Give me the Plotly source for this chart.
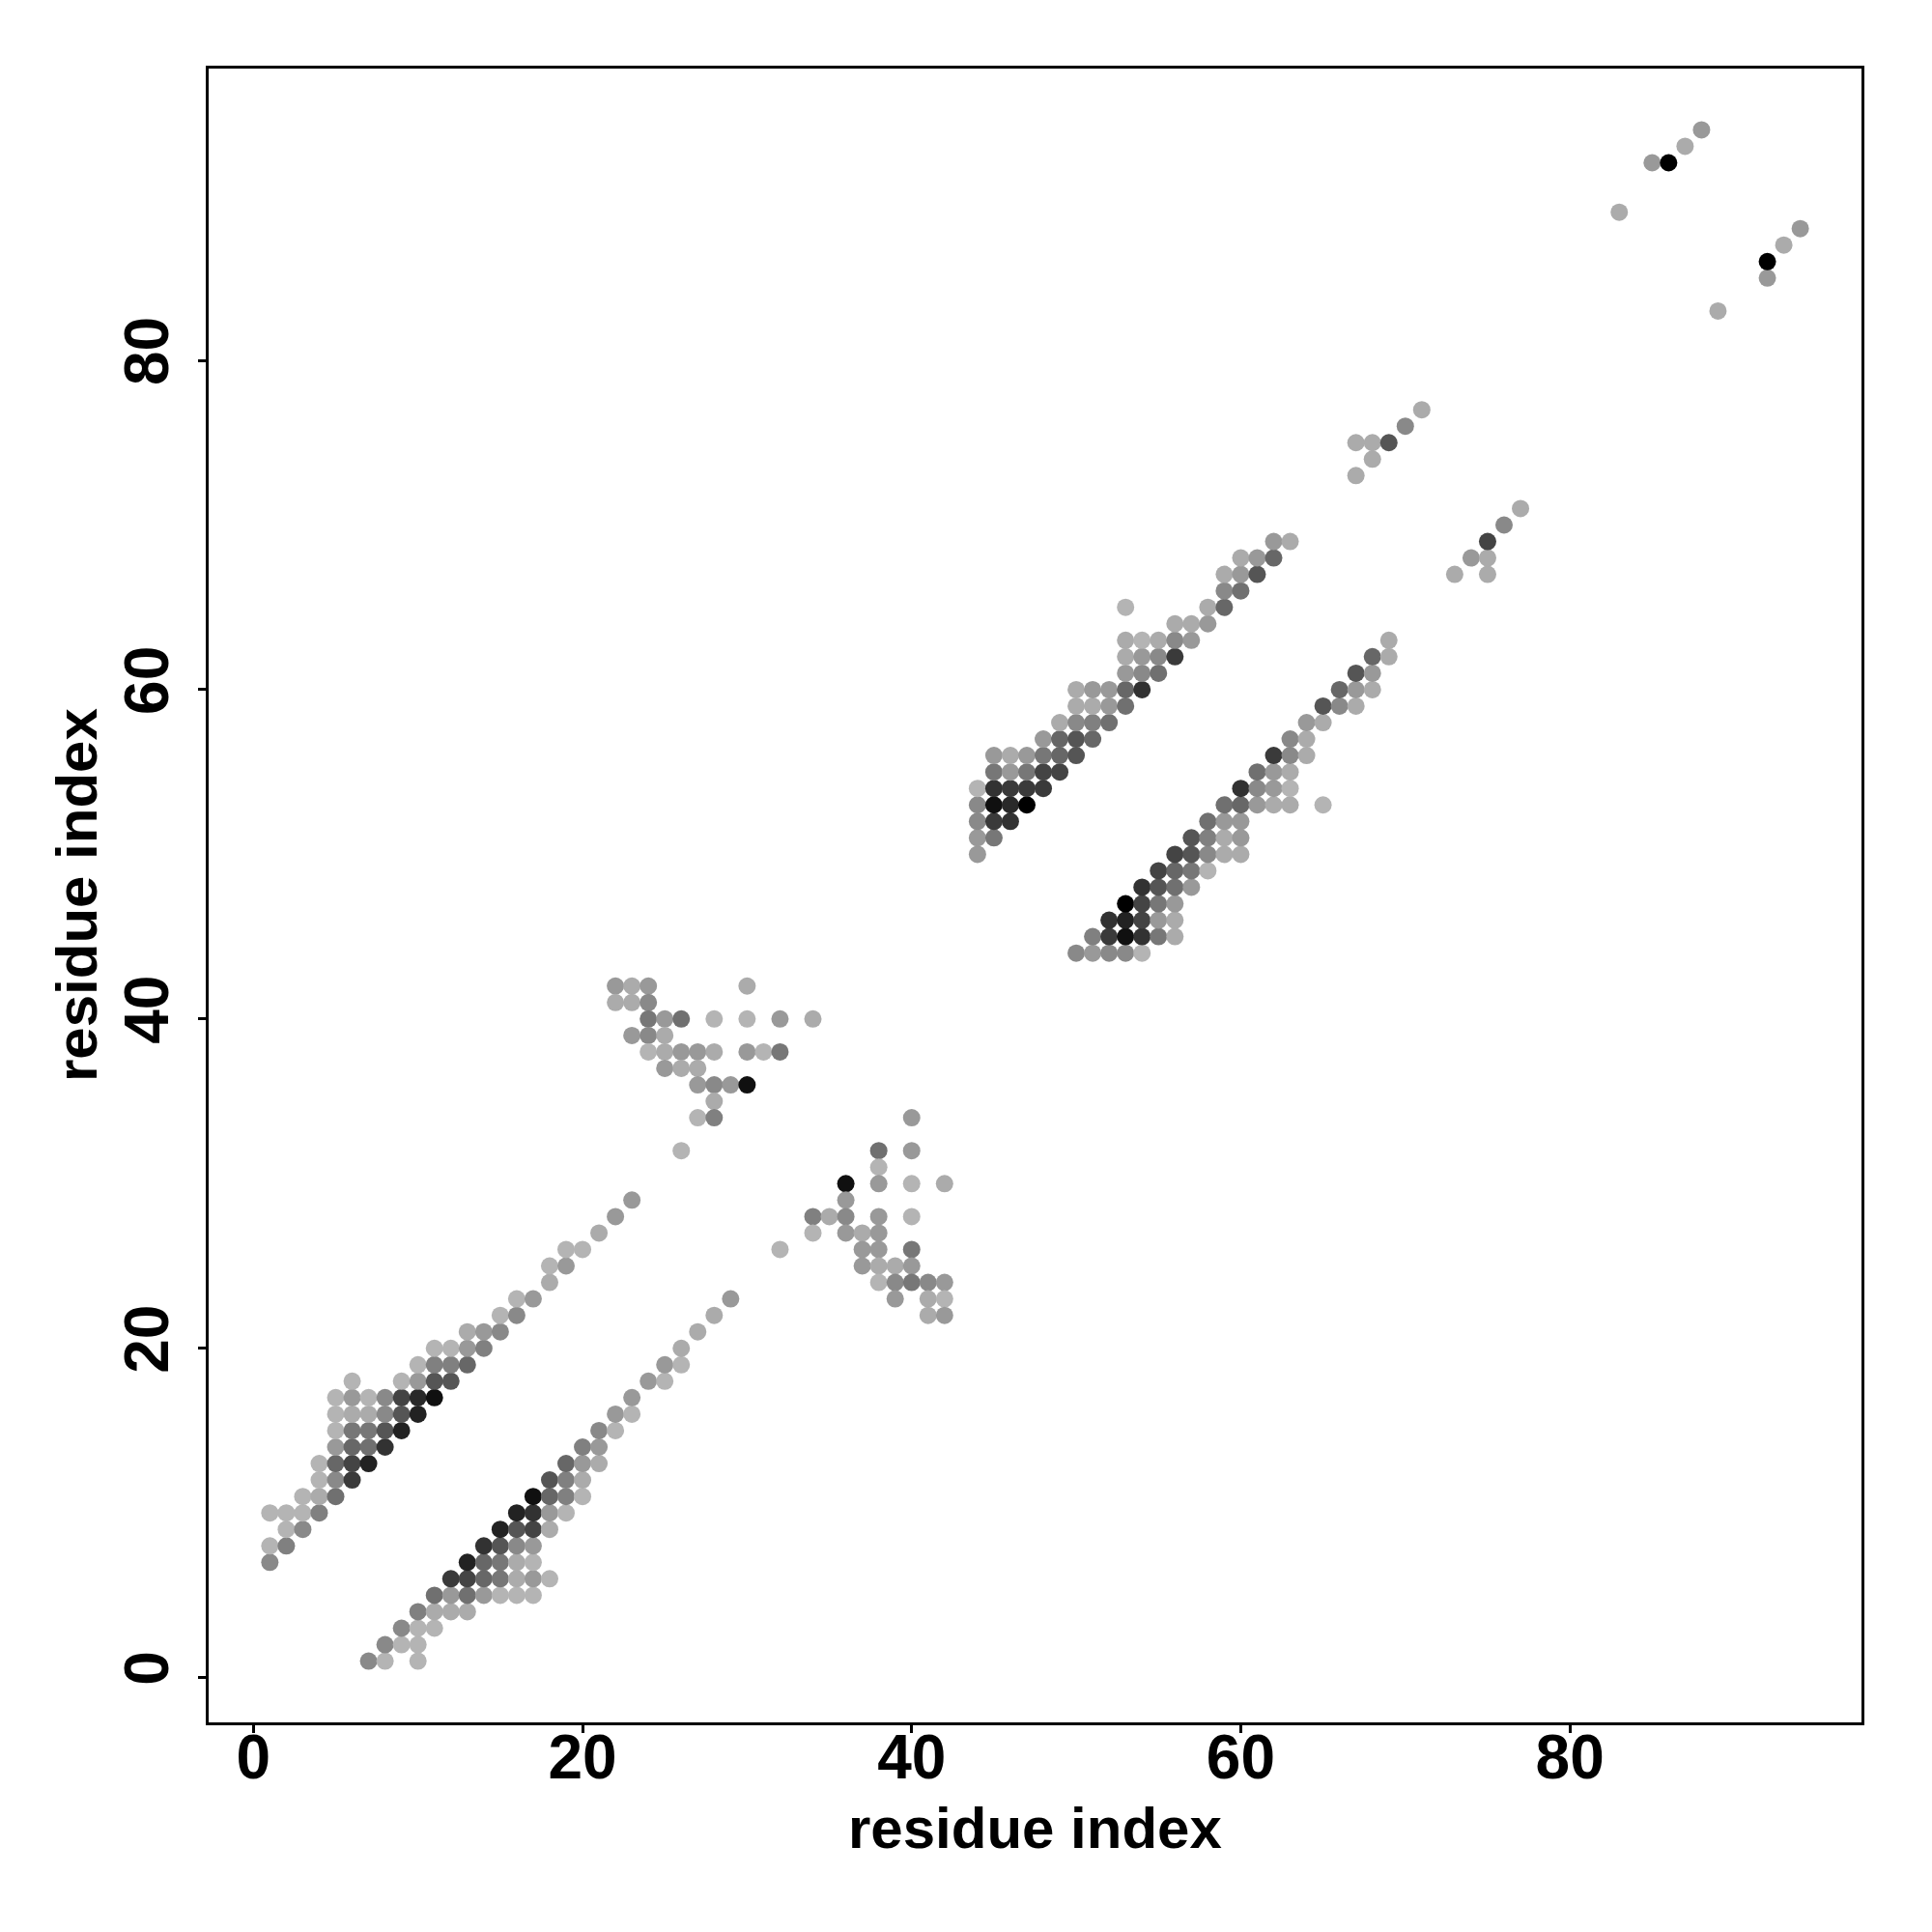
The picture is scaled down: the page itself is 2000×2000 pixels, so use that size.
import plotly.graph_objects as go

# ---- contact map data: residue i (x), residue j (y), contact probability ----
# lower band near the N-terminus (i > j)
band1_lo_i = [7, 8, 10,
              8, 9, 10,
              9, 10, 11,
              10, 11, 12, 13,
              11, 12, 13, 14, 15, 16, 17,
              12, 13, 14, 15, 16, 17, 18,
              13, 14, 15, 16, 17,
              14, 15, 16, 17,
              15, 16, 17, 18,
              16, 17, 18, 19,
              17, 18, 19, 20,
              18, 19, 20,
              19, 20, 21,
              20, 21,
              21, 22,
              22, 23,
              23,
              24, 25,
              25, 26,
              26, 27, 28, 29]
band1_lo_j = [1, 1, 1,
              2, 2, 2,
              3, 3, 3,
              4, 4, 4, 4,
              5, 5, 5, 5, 5, 5, 5,
              6, 6, 6, 6, 6, 6, 6,
              7, 7, 7, 7, 7,
              8, 8, 8, 8,
              9, 9, 9, 9,
              10, 10, 10, 10,
              11, 11, 11, 11,
              12, 12, 12,
              13, 13, 13,
              14, 14,
              15, 15,
              16, 16,
              17,
              18, 18,
              19, 19,
              20, 21, 22, 23]
band1_lo_p = [.24, 0, 0,
              .24, 0, 0,
              .24, 0, 0,
              .29, .05, .05, .05,
              .38, .15, .38, .15, 0, 0, 0,
              .68, .62, .43, .34, .05, .15, 0,
              .81, .43, .34, .05, 0,
              .72, .53, .24, .15,
              .81, .53, .62, .05,
              .81, .72, .15, 0,
              .91, .43, .29, 0,
              .53, .29, .05,
              .43, .15, .05,
              .29, .15,
              .24, 0,
              .15, 0,
              .15,
              .15, 0,
              .15, 0,
              .05, .05, .05, .15]

# upper band near the N-terminus (j > i)
band1_up_i = [1,
              1, 2,
              2, 3,
              1, 2, 3, 4,
              3, 4, 5,
              4, 5, 6,
              4, 5, 6, 7,
              5, 6, 7, 8,
              5, 6, 7, 8, 9,
              5, 6, 7, 8, 9, 10,
              5, 6, 7, 8, 9, 10, 11,
              6, 9, 10, 11, 12,
              10, 11, 12, 13,
              11, 12, 13, 14,
              13, 14, 15,
              15, 16,
              16, 17,
              18,
              18, 19,
              19, 20,
              21, 22, 23]
band1_up_j = [7,
              8, 8,
              9, 9,
              10, 10, 10, 10,
              11, 11, 11,
              12, 12, 12,
              13, 13, 13, 13,
              14, 14, 14, 14,
              15, 15, 15, 15, 15,
              16, 16, 16, 16, 16, 16,
              17, 17, 17, 17, 17, 17, 17,
              18, 18, 18, 18, 18,
              19, 19, 19, 19,
              20, 20, 20, 20,
              21, 21, 21,
              22, 22,
              23, 23,
              24,
              25, 25,
              26, 26,
              27, 28, 29]
band1_up_p = [.24,
              0, .29,
              0, .24,
              0, 0, 0, .29,
              0, .05, .38,
              0, .24, .68,
              0, .43, .62, .81,
              .15, .43, .38, .72,
              0, .34, .34, .53, .81,
              0, .05, .05, .24, .53, .81,
              0, .15, 0, .24, .62, .77, .91,
              0, 0, .15, .53, .53,
              0, .29, .29, .43,
              0, 0, .15, .29,
              .05, .15, .24,
              0, .24,
              0, .15,
              .05,
              0, .15,
              0, 0,
              .05, .15, .15]

# cluster around (22-34, 32-42)
clusterA_i = [22, 23, 24, 30,
              22, 23, 24,
              24, 25, 26, 28, 30, 32, 34,
              23, 24, 25,
              24, 25, 26, 27, 28, 30, 31, 32,
              25, 26, 27,
              27, 28, 29, 30,
              28,
              27, 28,
              26]
clusterA_j = [42, 42, 42, 42,
              41, 41, 41,
              40, 40, 40, 40, 40, 40, 40,
              39, 39, 39,
              38, 38, 38, 38, 38, 38, 38, 38,
              37, 37, 37,
              36, 36, 36, 36,
              35,
              34, 34,
              32]
clusterA_p = [.15, .05, .15, .05,
              .05, .05, .24,
              .34, .15, .38, 0, 0, .15, .05,
              .15, .24, .05,
              0, .05, .15, .15, .05, .15, 0, .34,
              .15, .05, .05,
              .15, .24, .15, .91,
              .05,
              0, .29,
              0]

# cluster around (32-42, 22-34)
clusterB_i = [40,
              38, 40,
              38,
              36, 38, 40, 42,
              36,
              34, 35, 36, 38, 40,
              34, 36, 37, 38,
              32, 37, 38, 40,
              37, 38, 39, 40,
              38, 39, 40, 41, 42,
              39, 41, 42,
              41, 42]
clusterB_j = [34,
              32, 32,
              31,
              30, 30, 30, 30,
              29,
              28, 28, 28, 28, 28,
              27, 27, 27, 27,
              26, 26, 26, 26,
              25, 25, 25, 25,
              24, 24, 24, 24, 24,
              23, 23, 23,
              22, 22]
clusterB_p = [.15,
              .38, .15,
              0,
              .91, .15, 0, .05,
              .15,
              .29, .05, .24, .15, 0,
              0, .15, .05, .15,
              0, .15, .15, .34,
              .15, .05, .05, .15,
              0, .24, .34, .24, .15,
              .15, .05, 0,
              .05, .15]

# upper band of the middle sheet (j > i)
band2_up_i = [44,
              44, 45,
              44, 45, 46,
              44, 45, 46, 47,
              44, 45, 46, 47, 48,
              45, 46, 47, 48, 49,
              45, 46, 47, 48, 49, 50,
              48, 49, 50, 51,
              49, 50, 51, 52,
              50, 51, 52, 53,
              50, 51, 52, 53, 54,
              53, 54, 55,
              53, 54, 55, 56,
              53, 54, 55, 56, 57,
              56, 57, 58,
              53, 58, 59,
              59, 60,
              59, 60, 61,
              60, 61, 62,
              62, 63]
band2_up_j = [50,
              51, 51,
              52, 52, 52,
              53, 53, 53, 53,
              54, 54, 54, 54, 54,
              55, 55, 55, 55, 55,
              56, 56, 56, 56, 56, 56,
              57, 57, 57, 57,
              58, 58, 58, 58,
              59, 59, 59, 59,
              60, 60, 60, 60, 60,
              61, 61, 61,
              62, 62, 62, 62,
              63, 63, 63, 63, 63,
              64, 64, 64,
              65, 65, 65,
              66, 66,
              67, 67, 67,
              68, 68, 68,
              69, 69]
band2_up_p = [.15,
              .15, .34,
              .24, .68, .72,
              .24, .91, .77, 1.0,
              0, .72, .68, .68, .68,
              .34, .15, .34, .62, .62,
              .15, .05, .15, .34, .43, .53,
              .15, .43, .53, .43,
              .05, .24, .29, .38,
              .05, .05, .15, .38,
              .05, .15, .15, .43, .72,
              .15, .24, .38,
              .05, .15, .24, .68,
              .05, 0, .05, .24, .15,
              .05, .05, .15,
              0, .05, .43,
              .24, .38,
              .05, .15, .53,
              .05, .15, .43,
              .15, .05]

# lower band of the middle sheet (i > j)
band2_lo_i = [50, 51, 52, 53, 54,
              51, 52, 53, 54, 55, 56,
              52, 53, 54, 55, 56,
              53, 54, 55, 56,
              54, 55, 56, 57,
              55, 56, 57, 58,
              56, 57, 58, 59, 60,
              57, 58, 59, 60,
              58, 59, 60,
              59, 60, 61, 62, 63, 65,
              60, 61, 62, 63,
              61, 62, 63,
              62, 63, 64,
              63, 64,
              64, 65,
              65, 66, 67,
              66, 67, 68,
              67, 68,
              68, 69,
              69]
band2_lo_j = [44, 44, 44, 44, 44,
              45, 45, 45, 45, 45, 45,
              46, 46, 46, 46, 46,
              47, 47, 47, 47,
              48, 48, 48, 48,
              49, 49, 49, 49,
              50, 50, 50, 50, 50,
              51, 51, 51, 51,
              52, 52, 52,
              53, 53, 53, 53, 53, 53,
              54, 54, 54, 54,
              55, 55, 55,
              56, 56, 56,
              57, 57,
              58, 58,
              59, 59, 59,
              60, 60, 60,
              61, 61,
              62, 62,
              63]
band2_lo_p = [.24, .15, .24, .24, 0,
              .29, .68, .91, .72, .34, .05,
              .72, .81, .62, .15, .05,
              1.0, .62, .34, .15,
              .72, .53, .38, .15,
              .62, .43, .34, 0,
              .62, .53, .24, .05, .05,
              .53, .29, .05, .15,
              .38, .15, .15,
              .38, .43, .15, .05, .05, 0,
              .72, .24, .15, 0,
              .38, .15, .05,
              .68, .24, .05,
              .24, .05,
              .15, .05,
              .53, .24, .05,
              .43, .15, .05,
              .53, .15,
              .43, .05,
              .05]

# contacts around residues 67-77
clusterD_i = [67, 68, 67, 68, 69, 70, 71, 73, 75, 74, 75, 75, 76, 77]
clusterD_j = [73, 74, 75, 75, 75, 76, 77, 67, 67, 68, 68, 69, 70, 71]
clusterD_p = [.05, .05, .05, .05, .53, .24, .05, .05, .05, .15, .05, .62, .24, .05]

# contacts around residues 83-94
clusterE_i = [83, 85, 86, 87, 88, 89, 92, 92, 93, 94]
clusterE_j = [89, 92, 92, 93, 94, 83, 85, 86, 87, 88]
clusterE_p = [.05, .15, 1.0, .05, .15, .05, .15, 1.0, .05, .15]

tick_vals = [0, 20, 40, 60, 80]
axis_label = "residue index"

res_i = (band1_lo_i + band1_up_i + clusterA_i + clusterB_i + band2_up_i
         + band2_lo_i + clusterD_i + clusterE_i)
res_j = (band1_lo_j + band1_up_j + clusterA_j + clusterB_j + band2_up_j
         + band2_lo_j + clusterD_j + clusterE_j)
prob = (band1_lo_p + band1_up_p + clusterA_p + clusterB_p + band2_up_p
        + band2_lo_p + clusterD_p + clusterE_p)

fig = go.Figure(go.Scatter(
    x=res_i, y=res_j, mode="markers",
    marker=dict(size=18, color=prob, cmin=0, cmax=1,
                colorscale=[[0, "rgb(180,180,180)"], [1, "rgb(0,0,0)"]],
                line=dict(width=0), showscale=False),
    hoverinfo="x+y",
))

FONT = "Liberation Sans, Arial, Helvetica, sans-serif"
axis_common = dict(
    tickvals=tick_vals, ticks="outside", ticklen=8, tickwidth=3, tickcolor="black",
    showline=True, linewidth=3, linecolor="black", mirror=True,
    showgrid=False, zeroline=False, automargin=False,
    tickfont=dict(family=FONT, size=64, color="black", weight="bold"),
)
data_min = min(min(res_i), min(res_j))
data_max = max(max(res_i), max(res_j))
pad = 0.04 * (data_max - data_min)
rng = [data_min - pad, data_max + pad]

title_font = dict(family=FONT, size=60, color="black", weight="bold")

# the page body adds an 8 px offset, so the figure is 1984 px and margins are shifted
fig.update_layout(
    width=1984, height=1984,
    margin=dict(l=208, r=65, t=63, b=209),
    paper_bgcolor="white", plot_bgcolor="white",
    showlegend=False,
    xaxis=dict(range=rng, ticklabelstandoff=-30, **axis_common),
    yaxis=dict(range=rng, tickangle=-90, ticklabelstandoff=5, **axis_common),
    annotations=[
        dict(text=axis_label, xref="paper", yref="paper", x=0.5, y=0,
             xanchor="center", yanchor="middle", yshift=-109,
             showarrow=False, font=title_font),
        dict(text=axis_label, xref="paper", yref="paper", x=0, y=0.5,
             xanchor="center", yanchor="middle", xshift=-137, textangle=-90,
             showarrow=False, font=title_font),
    ],
)

fig.write_html("out.html")
